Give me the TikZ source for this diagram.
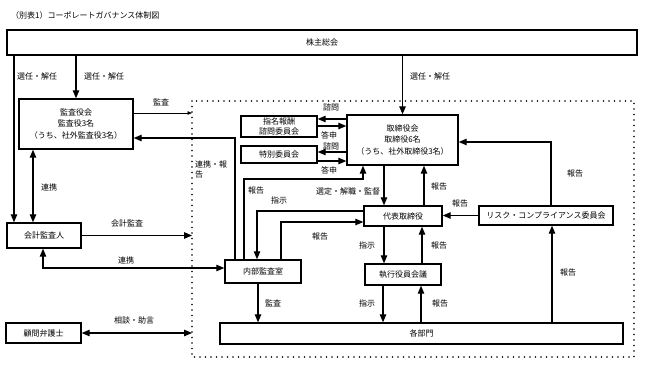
\documentclass[tikz,border=0pt]{standalone}
\usepackage{fontspec}
\setmainfont{Noto Sans CJK JP}
\usetikzlibrary{arrows.meta}
\begin{document}
\begin{tikzpicture}[x=1pt,y=-1pt,
  every node/.style={font=\fontsize{8}{11.5}\selectfont, inner sep=0pt},
  box/.style={draw, line width=1.4pt, align=center, fill=white},
  arr/.style={line width=1.1pt, -{Triangle[length=8pt,width=6.5pt]}},
  darr/.style={line width=1.1pt, {Triangle[length=8pt,width=6.5pt]}-{Triangle[length=8pt,width=6.5pt]}},
  tarr/.style={line width=0.6pt, -{Triangle[length=4.5pt,width=3.5pt]}},
  dotbox/.style={line width=1.9pt, dash pattern=on 0pt off 5.5pt, line cap=round}]
\useasboundingbox[fill=white] (0,0) rectangle (645,370);

% title
\node[anchor=west] (title) at (11,15) {（別表1）コーポレートガバナンス体制図};

% dotted area
\coordinate (dtl) at (192,101);
\coordinate (dbr) at (634,357);
\draw[dotbox] (dtl) rectangle (dbr);

% boxes
\node[box, minimum width=630pt, minimum height=25pt] (sh) at (322,42.5) {株主総会};
\node[box, minimum width=114pt, minimum height=50pt] (kansa) at (76,124) {監査役会\\監査役3名\\（うち、社外監査役3名）};
\node[box, minimum width=74pt, minimum height=25pt] (kaikei) at (44,235.5) {会計監査人};
\node[box, minimum width=75pt, minimum height=20pt] (komon) at (43.5,333) {顧問弁護士};
\node[box, minimum width=76pt, minimum height=21pt, font=\fontsize{8}{10.5}\selectfont] (shimei) at (279,126.5) {指名報酬\\諮問委員会};
\node[box, minimum width=76pt, minimum height=17pt] (toku) at (279,154.5) {特別委員会};
\node[box, minimum width=111pt, minimum height=50pt] (tori) at (402.5,140) {取締役会\\取締役6名\\（うち、社外取締役3名）};
\node[box, minimum width=78pt, minimum height=20pt] (daihyo) at (403,216) {代表取締役};
\node[box, minimum width=76pt, minimum height=21pt] (shikko) at (403,274.5) {執行役員会議};
\node[box, minimum width=134pt, minimum height=19pt] (risk) at (546,215.5) {リスク・コンプライアンス委員会};
\node[box, minimum width=76pt, minimum height=23pt] (naibu) at (263,271.5) {内部監査室};
\node[box, minimum width=403pt, minimum height=21pt] (kakubu) at (421.5,333.5) {各部門};

% shareholders
\draw[arr] (sh.south -| 14,0) -- (kaikei.north -| 14,0);
\draw[arr] (sh.south -| kansa.north) -- (kansa.north);
\draw[arr] (sh.south -| tori.north) -- (tori.north);
\node (s1) at (37,76) {選任・解任};
\node (s2) at (104,76) {選任・解任};
\node (s3) at (430,76) {選任・解任};

% kansayaku
\draw[darr] (kansa.south -| 33,0) -- (kaikei.north -| 33,0);
\node (r1) at (49,187) {連携};
\draw[tarr] (kansa.east |- 0,113) -- (dtl |- 0,113);
\node (k1) at (161,102) {監査};

% naibu -> kansa
\draw[arr] (naibu.north -| 235,0) -- (235,138) -- (kansa.east |- 0,138);
\node[align=left, anchor=north west, font=\fontsize{8}{10}\selectfont] (rh) at (195,161) {連携・報\\告};

% naibu -> tori
\draw[arr] (naibu.north -| 244,0) |- (363,179) -- (tori.south -| 363,0);
\node (h1) at (256,190) {報告};

% daihyo -> naibu
\draw[arr] (daihyo.west |- 0,211) -| (naibu.north -| 257,0);
\node (i1) at (279,200) {指示};

% naibu -> daihyo
\draw[arr] (naibu.north -| 281,0) |- (daihyo.west |- 0,222);
\node (h2) at (320,236) {報告};

% tori <-> daihyo
\draw[arr] (tori.south -| 384,0) -- (daihyo.north -| 384,0);
\node (sk) at (348,191) {選定・解職・監督};
\draw[arr] (daihyo.north -| 424,0) -- (tori.south -| 424,0);
\node (h3) at (439,186) {報告};

% daihyo <-> shikko
\draw[arr] (daihyo.south -| 384,0) -- (shikko.north -| 384,0);
\node (i2) at (367,245) {指示};
\draw[arr] (shikko.north -| 422,0) -- (daihyo.south -| 422,0);
\node (h4) at (439,245) {報告};

% risk
\draw[arr] (risk.west) -- (daihyo.east |- risk.west);
\node (h5) at (460,203) {報告};
\draw[arr] (risk.north -| 551,0) |- (tori.east |- 0,142);
\node (h6) at (575,173) {報告};
\draw[arr] (kakubu.north -| 552,0) -- (risk.south -| 552,0);
\node (h7) at (568,272) {報告};

% to kakubu
\draw[arr] (naibu.south -| 258,0) -- (kakubu.north -| 258,0);
\node (k2) at (273,303) {監査};
\draw[arr] (shikko.south -| 383,0) -- (kakubu.north -| 383,0);
\node (i3) at (367,303) {指示};
\draw[arr] (kakubu.north -| 421,0) -- (shikko.south -| 421,0);
\node (h8) at (440,303) {報告};

% committees
\draw[arr] (tori.west |- 0,119) -- (shimei.east |- 0,119);
\draw[arr] (shimei.east |- 0,126) -- (tori.west |- 0,126);
\draw[arr] (tori.west |- 0,152) -- (toku.east |- 0,152);
\draw[arr] (toku.east |- 0,161) -- (tori.west |- 0,161);
\node (c1) at (331,107) {諮問};
\node (c2) at (329,135) {答申};
\node (c3) at (331,146) {諮問};
\node (c4) at (329,170) {答申};

% kaikei
\draw[arr] (kaikei.east) -- (dtl |- kaikei.east);
\node (k3) at (127,223) {会計監査};
\draw[darr] (kaikei.south -| 43,0) |- (naibu.west |- 0,268);
\node (r2) at (126,260) {連携};

% komon
\draw[darr] (komon.east) -- (dtl |- komon.east);
\node (sj) at (134,320) {相談・助言};
\end{tikzpicture}
\end{document}
